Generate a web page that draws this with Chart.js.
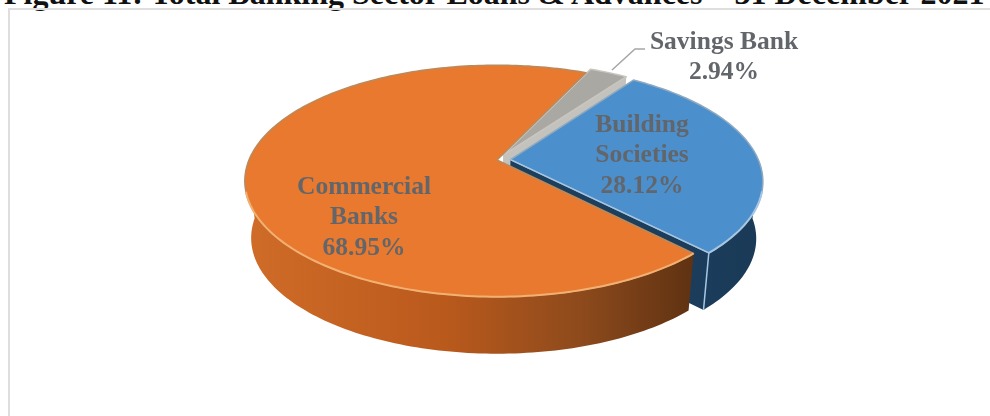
<!DOCTYPE html>
<html lang="en">
<head>
<meta charset="UTF-8">
<title>Total Banking Sector Loans & Advances</title>
<script src="https://cdn.jsdelivr.net/npm/chart.js"></script>
<style>
    html, body { margin: 0; padding: 0; background: #fff; overflow: hidden; }
    #page { position: relative; width: 990px; height: 416px; overflow: hidden; }
    #heading {
        position: absolute; left: 4px; top: -25px; white-space: nowrap;
        font: bold 32px "Liberation Serif", serif; color: #111;
    }
    #frame {
        position: absolute; left: 8px; top: 8px; right: -4px; bottom: -4px;
        border: 2px solid #dedede;
    }
    #wrap { position: absolute; left: 0; top: 0; width: 990px; height: 416px; }
</style>
</head>
<body>
<div id="page">
    <div id="heading">Figure 11: Total Banking Sector Loans &amp; Advances – 31 December 2021</div>
    <div id="frame"></div>
    <div id="wrap"><canvas id="pie"></canvas></div>
</div>
<script>
    const sectors = ['Commercial Banks', 'Savings Bank', 'Building Societies'];
    const shares = [68.95, 2.94, 28.12];
    const labelLines = [['Commercial', 'Banks'], ['Savings Bank'], ['Building', 'Societies']];

    const topColors = ['#e8792e', '#a9a8a3', '#4c8fcd'];
    const rimColors = ['#f4b070', '#d2d0cc', '#a6c6e2'];

    // tilted disc: where a point of the unit circle lands on the canvas
    const view = { x: 497, y: 160, spread: 248, tilt: 83, persp: -0.181, depth: 57, shrink: 0.975 };
    const labelAt = [[364, 187], [724, 42], [642, 125]];

    function project(u, v) {
        const d = 1 + view.persp * v;
        return [view.x + view.spread * u / d, (view.y + view.tilt * v) / d];
    }

    function lower(p) {
        return [view.x + (p[0] - view.x) * view.shrink, p[1] + view.depth];
    }

    // rim of a slice; frontOnly drops the far half, which has no visible wall
    function arcPoints(arc, frontOnly) {
        const mid = (arc.startAngle + arc.endAngle) / 2;
        const push = arc.options.offset / arc.outerRadius;
        const pts = [];
        const sweep = arc.endAngle - arc.startAngle;
        const steps = Math.max(2, Math.ceil(sweep / 0.02));
        for (let i = 0; i <= steps; i++) {
            const a = arc.startAngle + sweep * i / steps;
            if (frontOnly && Math.sin(a) < 0) continue;
            pts.push(project(Math.cos(a) + push * Math.cos(mid), Math.sin(a) + push * Math.sin(mid)));
        }
        return pts;
    }

    function apexOf(arc) {
        const mid = (arc.startAngle + arc.endAngle) / 2;
        const push = arc.options.offset / arc.outerRadius;
        return project(push * Math.cos(mid), push * Math.sin(mid));
    }

    function trace(ctx, pts) {
        ctx.beginPath();
        pts.forEach((p, i) => i ? ctx.lineTo(p[0], p[1]) : ctx.moveTo(p[0], p[1]));
    }

    function wallFill(ctx, index, x0, x1) {
        const g = ctx.createLinearGradient(x0, 0, x1, 0);
        if (index === 0) {
            g.addColorStop(0, '#d06c28');
            g.addColorStop(0.45, '#b9591c');
            g.addColorStop(0.75, '#8d4a1c');
            g.addColorStop(1, '#5f3212');
        } else if (index === 1) {
            g.addColorStop(0, '#c4c2bd');
            g.addColorStop(1, '#c4c2bd');
        } else {
            g.addColorStop(0, '#1c3f5e');
            g.addColorStop(1, '#1a3a57');
        }
        return g;
    }

    function drawSlice(ctx, arc, index) {
        const rim = arcPoints(arc, false);
        const wall = arcPoints(arc, true);
        const apex = apexOf(arc);
        const xs = rim.map(p => p[0]);

        // outer wall first, the top goes over it
        ctx.fillStyle = wallFill(ctx, index, Math.min(...xs), Math.max(...xs));
        if (wall.length) {
            trace(ctx, wall.concat(wall.map(lower).reverse()));
            ctx.closePath();
            ctx.fill();
        }

        // only the two pulled-out slices show a cut face
        const cutEnd = rim[rim.length - 1];
        if (index > 0) {
            trace(ctx, [apex, cutEnd, lower(cutEnd), lower(apex)]);
            ctx.closePath();
            ctx.fill();
        }

        trace(ctx, [apex].concat(rim));
        ctx.closePath();
        ctx.fillStyle = topColors[index];
        ctx.fill();
        ctx.lineWidth = 1.5;
        ctx.strokeStyle = ['#b98a5c', '#c9c6c0', '#8fa9bf'][index];
        ctx.stroke();

        // bright edge on the near side of the disc
        const near = rim.filter(p => p[1] > view.y + 30);
        if (near.length) {
            trace(ctx, near);
            ctx.strokeStyle = rimColors[index];
            ctx.lineWidth = 2;
            ctx.stroke();
        }
        if (index === 2) {
            trace(ctx, [apex, cutEnd, lower(cutEnd)]);
            ctx.strokeStyle = rimColors[index];
            ctx.lineWidth = 1.5;
            ctx.stroke();
        }
    }

    const tiltedPie = {
        id: 'tiltedPie',
        beforeDatasetDraw(chart) {
            const ctx = chart.ctx;
            const arcs = chart.getDatasetMeta(0).data;
            ctx.save();
            ctx.lineJoin = 'round';
            [1, 2, 0].forEach(i => drawSlice(ctx, arcs[i], i));
            ctx.restore();
            return false;
        },
        afterDatasetsDraw(chart) {
            const ctx = chart.ctx;
            ctx.save();
            // leader line of the small slice
            ctx.strokeStyle = '#a6a6a6';
            ctx.lineWidth = 1.5;
            ctx.beginPath();
            ctx.moveTo(612, 70);
            ctx.lineTo(635, 49);
            ctx.lineTo(645, 49);
            ctx.stroke();

            ctx.font = 'bold 25.5px "Liberation Serif", serif';
            ctx.fillStyle = '#62666b';
            ctx.textAlign = 'center';
            ctx.textBaseline = 'middle';
            sectors.forEach((name, i) => {
                const lines = labelLines[i].concat(shares[i].toFixed(2) + '%');
                lines.forEach((text, n) => ctx.fillText(text, labelAt[i][0], labelAt[i][1] + n * 30.5));
            });
            ctx.restore();
        }
    };

    new Chart(document.getElementById('pie'), {
        type: 'pie',
        data: {
            labels: sectors,
            datasets: [{
                data: shares,
                backgroundColor: topColors,
                offset: [0, 10, 11],
                borderWidth: 0
            }]
        },
        options: {
            responsive: true,
            maintainAspectRatio: false,
            animation: false,
            rotation: 136.5,
            plugins: { legend: { display: false }, tooltip: { enabled: false } }
        },
        plugins: [tiltedPie]
    });
</script>
</body>
</html>
